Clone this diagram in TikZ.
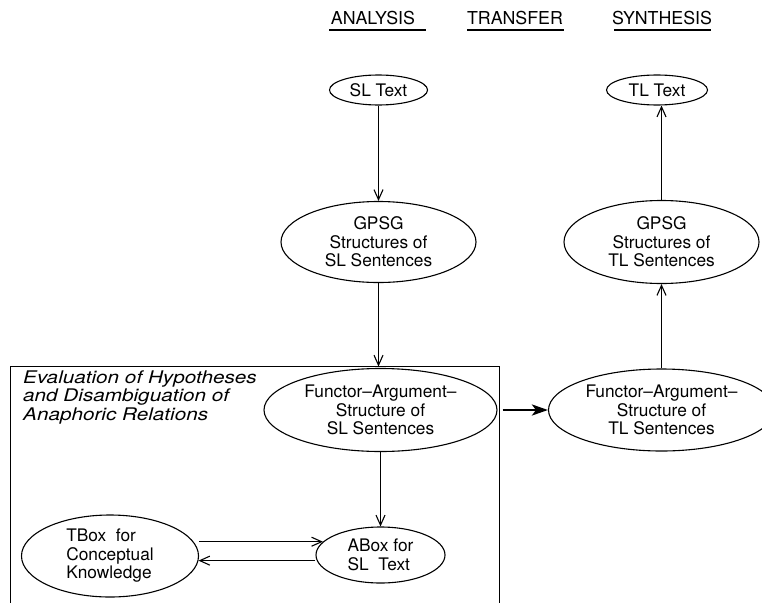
\documentclass[tikz,border=0pt]{standalone}
\usepackage{fontspec}
\setmainfont{TeX Gyre Heros}
\newfontfamily\evalfont[FakeStretch=1.19]{TeX Gyre Heros}
\usetikzlibrary{shapes.geometric,arrows.meta}
\begin{document}
\begin{tikzpicture}[x=1pt,y=-1pt,
  every node/.style={font=\fontsize{17.3}{18.5}\selectfont},
  ell/.style={draw,ellipse,inner sep=0pt,line width=1.1pt},
  conn/.style={line width=1.1pt,-{Straight Barb[length=10pt,width=9pt,line width=1.1pt]}},
  bigarrow/.style={line width=2.6pt,-{Stealth[length=16pt,width=11pt,inset=4pt]}},
  heading/.style={font=\fontsize{17.8}{19}\selectfont},
  uline/.style={line width=1.1pt},
  frame/.style={line width=1.1pt}]
\useasboundingbox (0,0) rectangle (762,602);
\clip (0,0) rectangle (762,602);
% headings
\node[heading] (ana) at (373,18) {ANALYSIS};
\node[heading] (tra) at (515,18) {TRANSFER};
\node[heading] (syn) at (662,18) {SYNTHESIS};
\draw[uline] (329,30) -- (426,30);
\draw[uline] (467,30) -- (564,30);
\draw[uline] (614,30) -- (711,30);
% frame
\coordinate (fbl) at (10.5,610);
\coordinate (ftl) at (10.5,366.5);
\coordinate (ftr) at (499.5,366.5);
\coordinate (fbr) at (499.5,610);
\draw[frame] (fbl) -- (ftl) -- (ftr) -- (fbr);
\node[anchor=base west,align=left,inner sep=0pt,
  font=\fontsize{17.4}{18.4}\evalfont\itshape] (eval) at (23,420)
  {Evaluation of Hypotheses\\and Disambiguation of\\Anaphoric Relations};
% nodes
\node[ell,minimum width=98pt,minimum height=30pt] (slt) at (378.5,90) {SL Text};
\node[ell,minimum width=101pt,minimum height=30pt] (tlt) at (657,90) {TL Text};
\node[ell,minimum width=195pt,minimum height=81pt,align=center] (gsl) at (378.5,242)
  {GPSG\\Structures of\\SL Sentences};
\node[ell,minimum width=195pt,minimum height=83pt,align=center] (gtl) at (661.5,242)
  {GPSG\\Structures of\\TL Sentences};
\node[ell,minimum width=233pt,minimum height=83pt,align=center] (fsl) at (380.5,410)
  {Functor–Argument–\\Structure of\\SL Sentences};
\node[ell,minimum width=226pt,minimum height=82pt,align=center] (fta) at (661.5,410)
  {Functor–Argument–\\Structure of\\TL Sentences};
\node[ell,minimum width=177pt,minimum height=82pt,align=left] (tbox) at (110,556)
  {TBox\ \ for\\Conceptual\\Knowledge};
\node[ell,minimum width=129pt,minimum height=56pt,align=left] (abox) at (380.5,555)
  {ABox for\\SL\ \ Text};
% connectors
\draw[conn] (slt) -- (gsl);
\draw[conn] (gsl.south) -- (gsl.south |- ftl);
\draw[conn] (fsl) -- (abox);
\draw[conn] (fta) -- (gtl);
\draw[conn] (gtl.north) -- (gtl.north |- tlt.south);
\draw[conn] (tbox.east |- abox.167) -- (abox.167);
\draw[conn] (abox.west |- tbox.-3.3) -- (tbox.-3.3);
\draw[bigarrow] ([xshift=3pt]ftr |- fsl.east) -- (fta.west);
\end{tikzpicture}
\end{document}
